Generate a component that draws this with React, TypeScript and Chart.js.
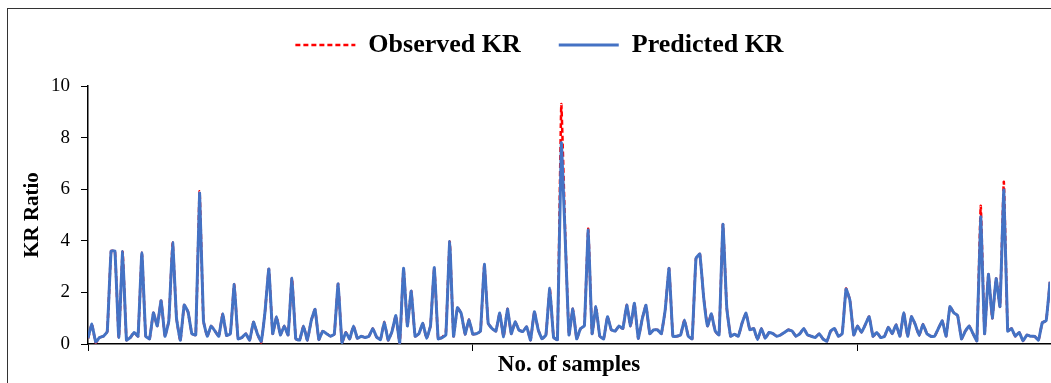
import React, { useEffect, useRef } from "react";
import { Chart, registerables } from "chart.js";

Chart.register(...registerables);

const SERIF = "'Liberation Serif', 'Times New Roman', serif";

const observed: number[] = [
  0.22, 0.77, 0.05, 0.25, 0.3, 0.48, 3.6, 3.6, 0.25, 3.58,
  0.15, 0.25, 0.45, 0.3, 3.54, 0.3, 0.2, 1.21, 0.7, 1.68,
  0.3, 0.9, 3.93, 1.0, 0.12, 1.51, 1.24, 0.4, 0.35, 5.92,
  0.9, 0.3, 0.7, 0.5, 0.3, 1.17, 0.33, 0.4, 2.31, 0.2,
  0.25, 0.4, 0.15, 0.85, 0.4, 0.06, 1.25, 2.91, 0.4, 1.06,
  0.35, 0.7, 0.35, 2.57, 0.2, 0.15, 0.7, 0.15, 0.9, 1.34,
  0.17, 0.5, 0.4, 0.3, 0.38, 2.33, 0.03, 0.45, 0.2, 0.7,
  0.22, 0.3, 0.25, 0.3, 0.6, 0.27, 0.17, 0.85, 0.15, 0.48,
  1.1, 0.0, 2.93, 0.7, 2.05, 0.3, 0.4, 0.8, 0.22, 0.7,
  2.96, 0.2, 0.25, 0.45, 3.97, 0.3, 1.41, 1.18, 0.38, 0.95,
  0.38, 0.4, 0.5, 3.09, 0.8, 0.6, 0.5, 1.2, 0.28, 1.36,
  0.4, 0.86, 0.54, 0.48, 0.67, 0.15, 1.25, 0.55, 0.2, 0.35,
  2.16, 0.25, 0.17, 9.3, 4.35, 0.35, 1.36, 0.2, 0.6, 0.7,
  4.47, 0.4, 1.45, 0.3, 0.2, 1.06, 0.55, 0.5, 0.7, 0.6,
  1.51, 0.7, 1.58, 0.22, 0.95, 1.5, 0.4, 0.55, 0.55, 0.4,
  1.32, 2.93, 0.3, 0.3, 0.35, 0.93, 0.3, 0.2, 3.32, 3.49,
  1.8, 0.7, 1.17, 0.5, 0.35, 4.64, 1.4, 0.3, 0.38, 0.3,
  0.82, 1.2, 0.55, 0.6, 0.17, 0.6, 0.22, 0.45, 0.4, 0.3,
  0.35, 0.45, 0.55, 0.5, 0.3, 0.4, 0.6, 0.35, 0.3, 0.25,
  0.4, 0.2, 0.1, 0.5, 0.6, 0.3, 0.4, 2.15, 1.7, 0.35,
  0.7, 0.45, 0.75, 1.06, 0.3, 0.45, 0.25, 0.3, 0.65, 0.4,
  0.75, 0.3, 1.21, 0.3, 1.06, 0.75, 0.33, 0.77, 0.4, 0.3,
  0.3, 0.6, 0.9, 0.3, 1.45, 1.21, 1.1, 0.2, 0.5, 0.7,
  0.4, 0.12, 5.36, 0.4, 2.7, 1.0, 2.54, 1.45, 6.29, 0.5,
  0.6, 0.3, 0.45, 0.12, 0.35, 0.3, 0.3, 0.15, 0.83, 0.9,
  2.41,
];

// Predicted KR values, one per sample
const predicted: number[] = [
  0.22, 0.77, 0.08, 0.25, 0.3, 0.48, 3.6, 3.6, 0.25, 3.58,
  0.15, 0.25, 0.45, 0.3, 3.54, 0.3, 0.2, 1.21, 0.7, 1.68,
  0.3, 0.9, 3.93, 1.0, 0.15, 1.51, 1.24, 0.4, 0.35, 5.85,
  0.9, 0.3, 0.7, 0.5, 0.3, 1.17, 0.33, 0.4, 2.31, 0.2,
  0.25, 0.4, 0.15, 0.85, 0.4, 0.1, 1.25, 2.91, 0.4, 1.06,
  0.35, 0.7, 0.35, 2.55, 0.2, 0.15, 0.7, 0.15, 0.9, 1.34,
  0.17, 0.5, 0.4, 0.3, 0.38, 2.33, 0.06, 0.45, 0.2, 0.7,
  0.22, 0.3, 0.25, 0.3, 0.6, 0.27, 0.17, 0.85, 0.15, 0.48,
  1.1, 0.05, 2.93, 0.7, 2.05, 0.3, 0.4, 0.8, 0.22, 0.7,
  2.96, 0.2, 0.25, 0.35, 3.97, 0.3, 1.41, 1.18, 0.38, 0.95,
  0.38, 0.4, 0.5, 3.09, 0.8, 0.6, 0.5, 1.2, 0.28, 1.36,
  0.4, 0.86, 0.54, 0.48, 0.67, 0.15, 1.25, 0.55, 0.2, 0.35,
  2.16, 0.25, 0.17, 7.8, 4.16, 0.35, 1.36, 0.2, 0.6, 0.7,
  4.42, 0.4, 1.45, 0.3, 0.2, 1.06, 0.55, 0.5, 0.7, 0.6,
  1.51, 0.7, 1.58, 0.22, 0.95, 1.5, 0.4, 0.55, 0.55, 0.4,
  1.32, 2.93, 0.3, 0.3, 0.35, 0.93, 0.3, 0.2, 3.32, 3.49,
  1.8, 0.7, 1.17, 0.5, 0.35, 4.64, 1.4, 0.3, 0.38, 0.3,
  0.82, 1.2, 0.55, 0.6, 0.17, 0.6, 0.22, 0.45, 0.4, 0.3,
  0.35, 0.45, 0.55, 0.5, 0.3, 0.4, 0.6, 0.35, 0.3, 0.25,
  0.4, 0.2, 0.1, 0.5, 0.6, 0.3, 0.4, 2.13, 1.7, 0.35,
  0.7, 0.45, 0.75, 1.06, 0.3, 0.45, 0.25, 0.3, 0.65, 0.4,
  0.75, 0.3, 1.21, 0.3, 1.06, 0.75, 0.33, 0.77, 0.4, 0.3,
  0.3, 0.6, 0.9, 0.3, 1.45, 1.21, 1.1, 0.2, 0.5, 0.7,
  0.4, 0.12, 4.93, 0.4, 2.7, 1.0, 2.54, 1.45, 5.97, 0.5,
  0.6, 0.3, 0.45, 0.12, 0.35, 0.3, 0.3, 0.15, 0.83, 0.9,
  2.41,
];

const sampleIndex: number[] = observed.map((_, i) => i);
const xTickValues: number[] = [0, 100, 200];
const yTickValues: number[] = [0, 2, 4, 6, 8, 10];

export default function App() {
  const canvasRef = useRef<HTMLCanvasElement>(null);

  useEffect(() => {
    const legendSpacer = {
      id: "legendSpacer",
      beforeInit(chart: any) {
        const lg = chart.legend;
        if (!lg) return;
        const orig = lg.fit;
        lg.fit = function () {
          orig.call(this);
          this.height += 18;
        };
      },
    };

    const defaultLabels = (Chart as any).defaults.plugins.legend.labels.generateLabels;

    const chart = new Chart(canvasRef.current as HTMLCanvasElement, {
      type: "line",
      data: {
        datasets: [
          {
            label: "Observed KR",
            data: observed.map((v, i) => ({ x: sampleIndex[i], y: v })),
            borderColor: "#FF0000",
            backgroundColor: "#FF0000",
            borderWidth: 2.5,
            borderDash: [5, 3],
            pointRadius: 0,
            tension: 0.1,
            order: 1,
          },
          {
            label: "Predicted KR",
            data: predicted.map((v, i) => ({ x: sampleIndex[i], y: v })),
            borderColor: "#4472C4",
            backgroundColor: "#4472C4",
            borderWidth: 3,
            pointRadius: 0,
            tension: 0.1,
            order: 0,
          },
        ],
      },
      options: {
        animation: false,
        responsive: true,
        maintainAspectRatio: false,
        layout: { padding: { top: -15, left: 21, right: 1, bottom: 0 } },
        plugins: {
          tooltip: { enabled: false },
          legend: {
            position: "top",
            align: "center",
            labels: {
              usePointStyle: true,
              pointStyle: "line",
              pointStyleWidth: 60,
              padding: 38,
              color: "#000",
              font: { family: SERIF, size: 26, weight: "bold" },
              sort: (a: any, b: any) => a.datasetIndex - b.datasetIndex,
              generateLabels: (ch: any) =>
                defaultLabels(ch).map((item: any) => {
                  const ds = ch.data.datasets[item.datasetIndex];
                  return {
                    ...item,
                    strokeStyle: ds.borderColor,
                    fillStyle: ds.borderColor,
                    lineWidth: ds.borderWidth,
                    lineDash: ds.borderDash || [],
                    pointStyle: "line",
                  };
                }),
            },
          },
        },
        scales: {
          x: {
            type: "linear",
            min: 0,
            max: 250,
            afterBuildTicks: (s: any) => {
              s.ticks = xTickValues.map((v) => ({ value: v }));
            },
            ticks: { display: false },
            grid: {
              display: true,
              drawOnChartArea: false,
              drawTicks: true,
              tickLength: 7,
              color: "#000",
              lineWidth: 1,
            },
            border: { display: true, color: "#000", width: 1.5 },
            title: {
              display: true,
              text: "No. of samples",
              color: "#000",
              font: { family: SERIF, size: 23, weight: "bold" },
              padding: { top: 0, bottom: 4 },
            },
            afterFit: (s: any) => {
              s.height = 39;
            },
          },
          y: {
            min: 0,
            max: 10,
            afterBuildTicks: (s: any) => {
              s.ticks = yTickValues.map((v) => ({ value: v }));
            },
            ticks: {
              color: "#000",
              padding: 11,
              font: { family: SERIF, size: 19 },
            },
            grid: {
              display: true,
              drawOnChartArea: false,
              drawTicks: true,
              tickLength: 7,
              color: "#000",
              lineWidth: 1,
            },
            border: { display: true, color: "#000", width: 1.5 },
            title: {
              display: true,
              text: "KR Ratio",
              color: "#000",
              font: { family: SERIF, size: 21, weight: "bold" },
              padding: { top: -9, bottom: 0 },
            },
            afterFit: (s: any) => {
              s.width = 59;
            },
          },
        },
      } as any,
      plugins: [legendSpacer],
    });

    return () => chart.destroy();
  }, []);

  return (
    <div
      style={{
        position: "fixed",
        left: 7,
        top: 8,
        width: 1044,
        height: 375,
        boxSizing: "border-box",
        borderTop: "1px solid #333",
        borderLeft: "1px solid #333",
        background: "#fff",
      }}
    >
      <div style={{ position: "relative", width: 1043, height: 374 }}>
        <canvas ref={canvasRef} />
      </div>
    </div>
  );
}
